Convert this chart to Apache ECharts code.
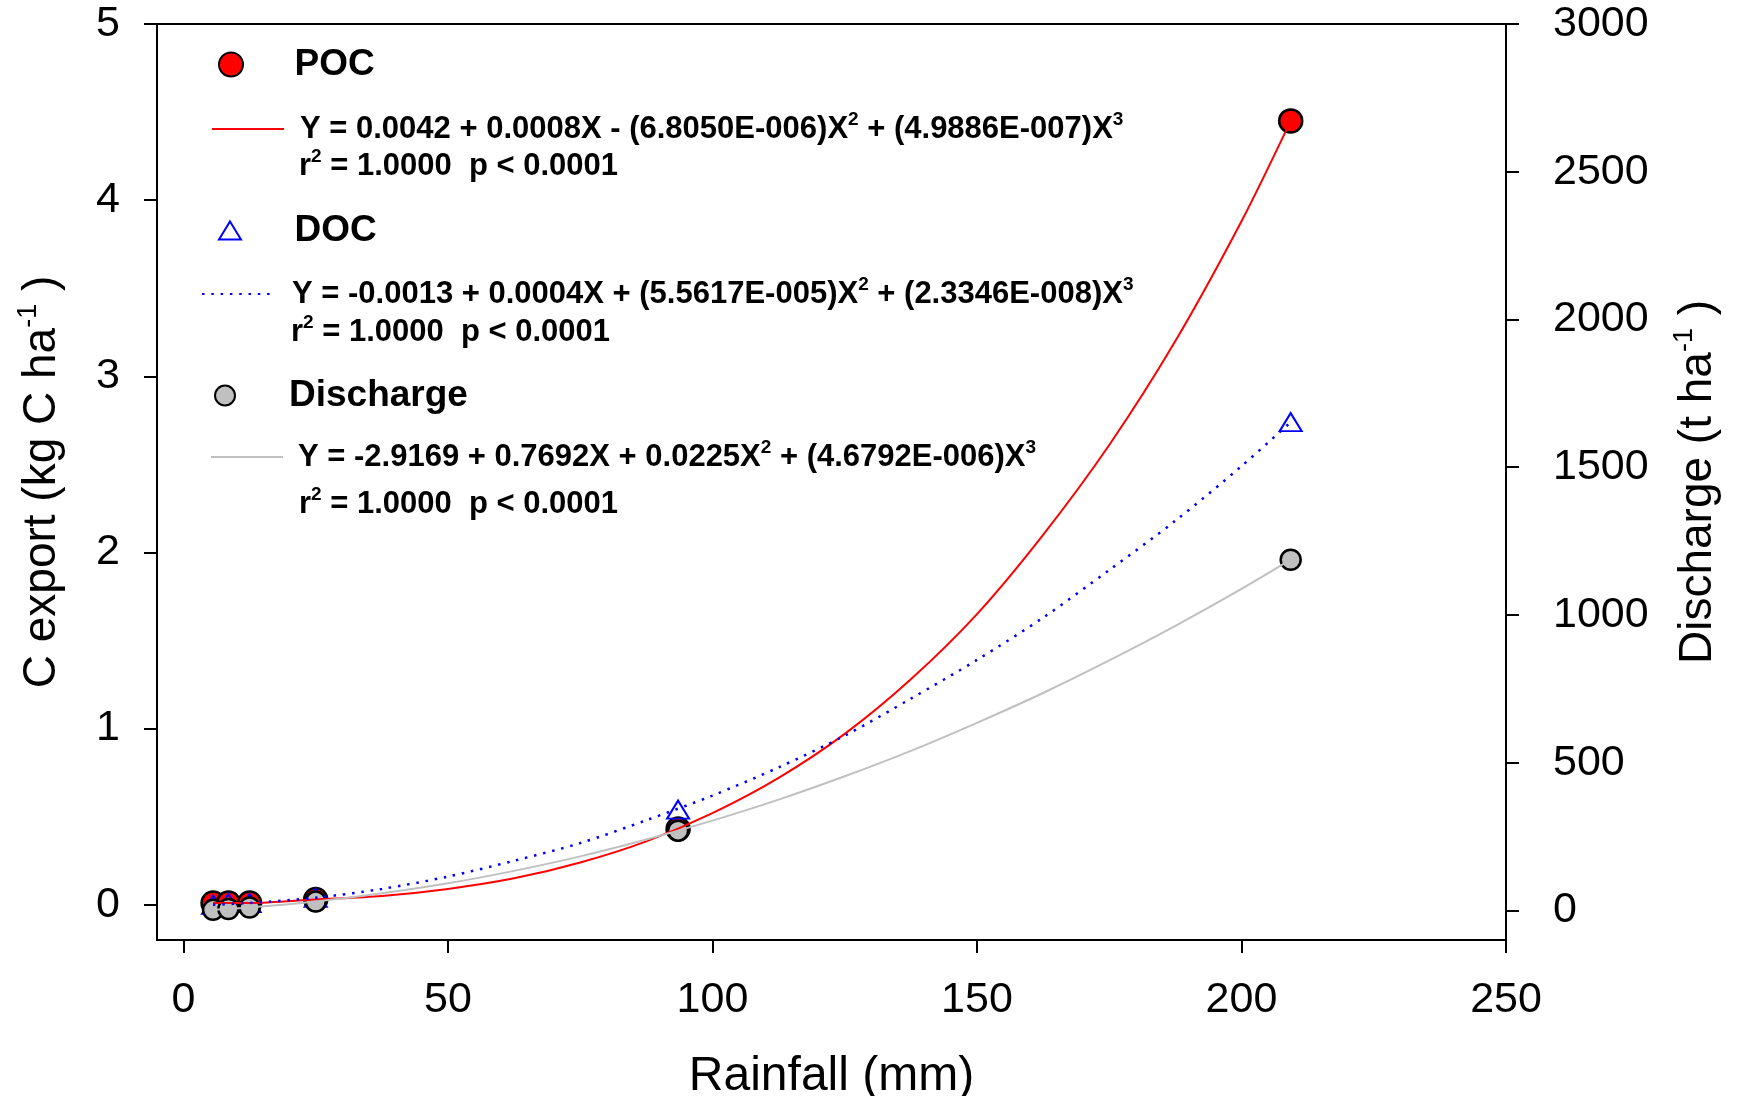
<!DOCTYPE html>
<html>
<head>
<meta charset="utf-8">
<script src="https://cdn.jsdelivr.net/npm/echarts@6/dist/echarts.min.js"></script>
<style>
  html, body { margin: 0; padding: 0; background: #fff; }
  #main { width: 1737px; height: 1096px; }
</style>
</head>
<body>
<div id="main"></div>
<script>
// measured points
var rainfall = [5.6, 8.5, 12.5, 25, 93.5, 209.3];
var pocValues = [0.01, 0.01, 0.01, 0.03, 0.43, 4.45];
var docValues = [0.00, 0.01, 0.01, 0.04, 0.54, 2.74];
var dischargeValues = [2, 5, 10, 30, 270, 1187];

// fitted curves
var curveRainfall = [5.6, 12.5, 25, 37.5, 50, 62.5, 75, 87.5, 100, 112.5, 125, 137.5, 150, 162.5, 175, 187.5, 200, 209.3];
var pocCurve = [0.01, 0.01, 0.03, 0.05, 0.09, 0.15, 0.24, 0.36, 0.52, 0.72, 0.97, 1.28, 1.65, 2.10, 2.61, 3.20, 3.88, 4.45];
var docCurve = [0.00, 0.01, 0.04, 0.09, 0.16, 0.25, 0.35, 0.48, 0.62, 0.78, 0.96, 1.17, 1.39, 1.63, 1.90, 2.18, 2.49, 2.74];
var dischargeCurve = [2, 10, 30, 58, 92, 134, 183, 240, 304, 375, 454, 540, 635, 736, 846, 963, 1088, 1187];

// tick labels
var xTicks = [0, 50, 100, 150, 200, 250];
var leftTicks = [0, 1, 2, 3, 4, 5];
var rightTicks = [0, 500, 1000, 1500, 2000, 2500, 3000];

// legend texts
var pocEq = '{sp| }{b|Y = 0.0042 + 0.0008X - (6.8050E-006)X}{s|2}{b| + (4.9886E-007)X}{s|3}';
var docEq = '{sp| }{b|Y = -0.0013 + 0.0004X + (5.5617E-005)X}{s|2}{b| + (2.3346E-008)X}{s|3}';
var disEq = '{sp| }{b|Y = -2.9169 + 0.7692X + 0.0225X}{s|2}{b| + (4.6792E-006)X}{s|3}';
var r2Text = '{b|r}{s|2}{b| = 1.0000  p < 0.0001}';

function pairs(xs, ys) {
  var out = [];
  for (var i = 0; i < xs.length; i++) out.push([xs[i], ys[i]]);
  return out;
}

var FONT = 'Liberation Sans, Arial, sans-serif';
var triangle = 'path://M11,0 L22,18 L0,18 Z';

function eqRich(gap) {
  return {
    sp: { width: gap, fontSize: 31, lineHeight: 38 },
    b: { fontFamily: FONT, fontWeight: 'bold', fontSize: 31, lineHeight: 38, color: '#000' },
    s: { fontFamily: FONT, fontWeight: 'bold', fontSize: 19, lineHeight: 19, color: '#000', verticalAlign: 'top' }
  };
}

// scatter legend: the icon sits centred in the item box, so the box is shifted by ECharts
function nameLegend(name, left, top, w, h) {
  return {
    data: [name], left: left, top: top, padding: 0,
    itemWidth: w, itemHeight: h, selectedMode: false,
    textStyle: { fontFamily: FONT, fontWeight: 'bold', fontSize: 37, color: '#000' }
  };
}

function eqLegend(name, text, left, top, w, gap) {
  return {
    data: [name], left: left, top: top, padding: 0,
    itemWidth: w, itemHeight: 30, selectedMode: false,
    itemStyle: { opacity: 0 },
    formatter: function () { return text; },
    textStyle: { fontFamily: FONT, fontWeight: 'bold', fontSize: 31, color: '#000', rich: eqRich(gap) }
  };
}

function r2Graphic(x, y) {
  return {
    type: 'text', x: x, y: y,
    style: { text: r2Text, rich: eqRich(0), verticalAlign: 'middle', align: 'left' }
  };
}

var axisNameRich = {
  t: { fontFamily: FONT, fontSize: 46, lineHeight: 54, color: '#000' },
  s: { fontFamily: FONT, fontSize: 27, lineHeight: 27, color: '#000', verticalAlign: 'top' }
};

function plain(v) { return String(v); }

var chart = echarts.init(document.getElementById('main'));

var option = {
  animation: false,
  backgroundColor: '#fff',
  grid: {
    left: 157, right: 231, top: 24, bottom: 156,
    outerBoundsMode: 'none',
    show: true, borderColor: '#000', borderWidth: 2, backgroundColor: 'transparent'
  },
  legend: [
    nameLegend('POC', 218, 46, 117, 24),
    eqLegend('POC fit', pocEq, 211, 110, 72, 11),
    nameLegend('DOC', 218, 212, 119, 18),
    eqLegend('DOC fit', docEq, 201, 275, 70, 15),
    nameLegend('Discharge', 214, 377, 118, 20),
    eqLegend('Discharge fit', disEq, 210, 438, 72, 10)
  ],
  graphic: [
    r2Graphic(299, 166.5),
    r2Graphic(291, 332),
    r2Graphic(299, 504.5)
  ],
  xAxis: {
    type: 'value', min: -5, max: 250,
    name: 'Rainfall (mm)', nameLocation: 'middle', nameGap: 113,
    nameTextStyle: { fontFamily: FONT, fontSize: 48, color: '#000' },
    axisLine: { onZero: false, lineStyle: { color: '#000', width: 2 } },
    axisTick: { customValues: xTicks, length: 13, lineStyle: { color: '#000', width: 2 } },
    axisLabel: { customValues: xTicks, margin: 39, fontFamily: FONT, fontSize: 43, color: '#000', formatter: plain },
    splitLine: { show: false }
  },
  yAxis: [
    {
      type: 'value', min: -0.2, max: 5, position: 'left',
      name: '{t|C export (kg C ha}{s|-1}{t| )}', nameLocation: 'middle', nameRotate: 90, nameGap: 88,
      nameTextStyle: { fontFamily: FONT, fontSize: 46, color: '#000', rich: axisNameRich },
      axisLine: { onZero: false, lineStyle: { color: '#000', width: 2 } },
      axisTick: { customValues: leftTicks, length: 13, lineStyle: { color: '#000', width: 2 } },
      axisLabel: { customValues: leftTicks, margin: 37, fontFamily: FONT, fontSize: 43, color: '#000', formatter: plain },
      splitLine: { show: false }
    },
    {
      type: 'value', min: -100, max: 3000, position: 'right',
      name: '{t|Discharge (t ha}{s|-1}{t| )}', nameLocation: 'middle', nameRotate: 90, nameGap: 165,
      nameTextStyle: { fontFamily: FONT, fontSize: 46, color: '#000', rich: axisNameRich },
      axisLine: { onZero: false, lineStyle: { color: '#000', width: 2 } },
      axisTick: { customValues: rightTicks, length: 13, lineStyle: { color: '#000', width: 2 } },
      axisLabel: { customValues: rightTicks, margin: 47, fontFamily: FONT, fontSize: 43, color: '#000', formatter: plain },
      splitLine: { show: false }
    }
  ],
  series: [
    {
      name: 'POC fit', type: 'line', yAxisIndex: 0, smooth: 0.3,
      symbol: 'none', data: pairs(curveRainfall, pocCurve),
      itemStyle: { color: '#ff0000' },
      lineStyle: { color: '#ff0000', width: 2 }
    },
    {
      name: 'DOC fit', type: 'line', yAxisIndex: 0, smooth: 0.3,
      symbol: 'none', data: pairs(curveRainfall, docCurve),
      itemStyle: { color: '#0000ff' },
      lineStyle: { color: '#0000ff', width: 2.5, type: [2.5, 6.8] }
    },
    {
      name: 'Discharge fit', type: 'line', yAxisIndex: 1, smooth: 0.3,
      symbol: 'none', data: pairs(curveRainfall, dischargeCurve),
      itemStyle: { color: '#c0c0c0' },
      lineStyle: { color: '#c0c0c0', width: 2 }
    },
    {
      name: 'POC', type: 'scatter', yAxisIndex: 0, symbol: 'circle', symbolSize: 23,
      data: pairs(rainfall, pocValues),
      itemStyle: { color: '#ff0000', borderColor: '#000', borderWidth: 2.5, opacity: 1 }
    },
    {
      name: 'DOC', type: 'scatter', yAxisIndex: 0, symbol: triangle, symbolSize: [22, 18],
      data: pairs(rainfall, docValues),
      itemStyle: { color: 'rgba(255,255,255,0)', borderColor: '#0000ff', borderWidth: 2, opacity: 1 }
    },
    {
      name: 'Discharge', type: 'scatter', yAxisIndex: 1, symbol: 'circle', symbolSize: 20,
      data: pairs(rainfall, dischargeValues),
      itemStyle: { color: '#c0c0c0', borderColor: '#000', borderWidth: 2.5, opacity: 1 }
    }
  ]
};

chart.setOption(option);
</script>
</body>
</html>
